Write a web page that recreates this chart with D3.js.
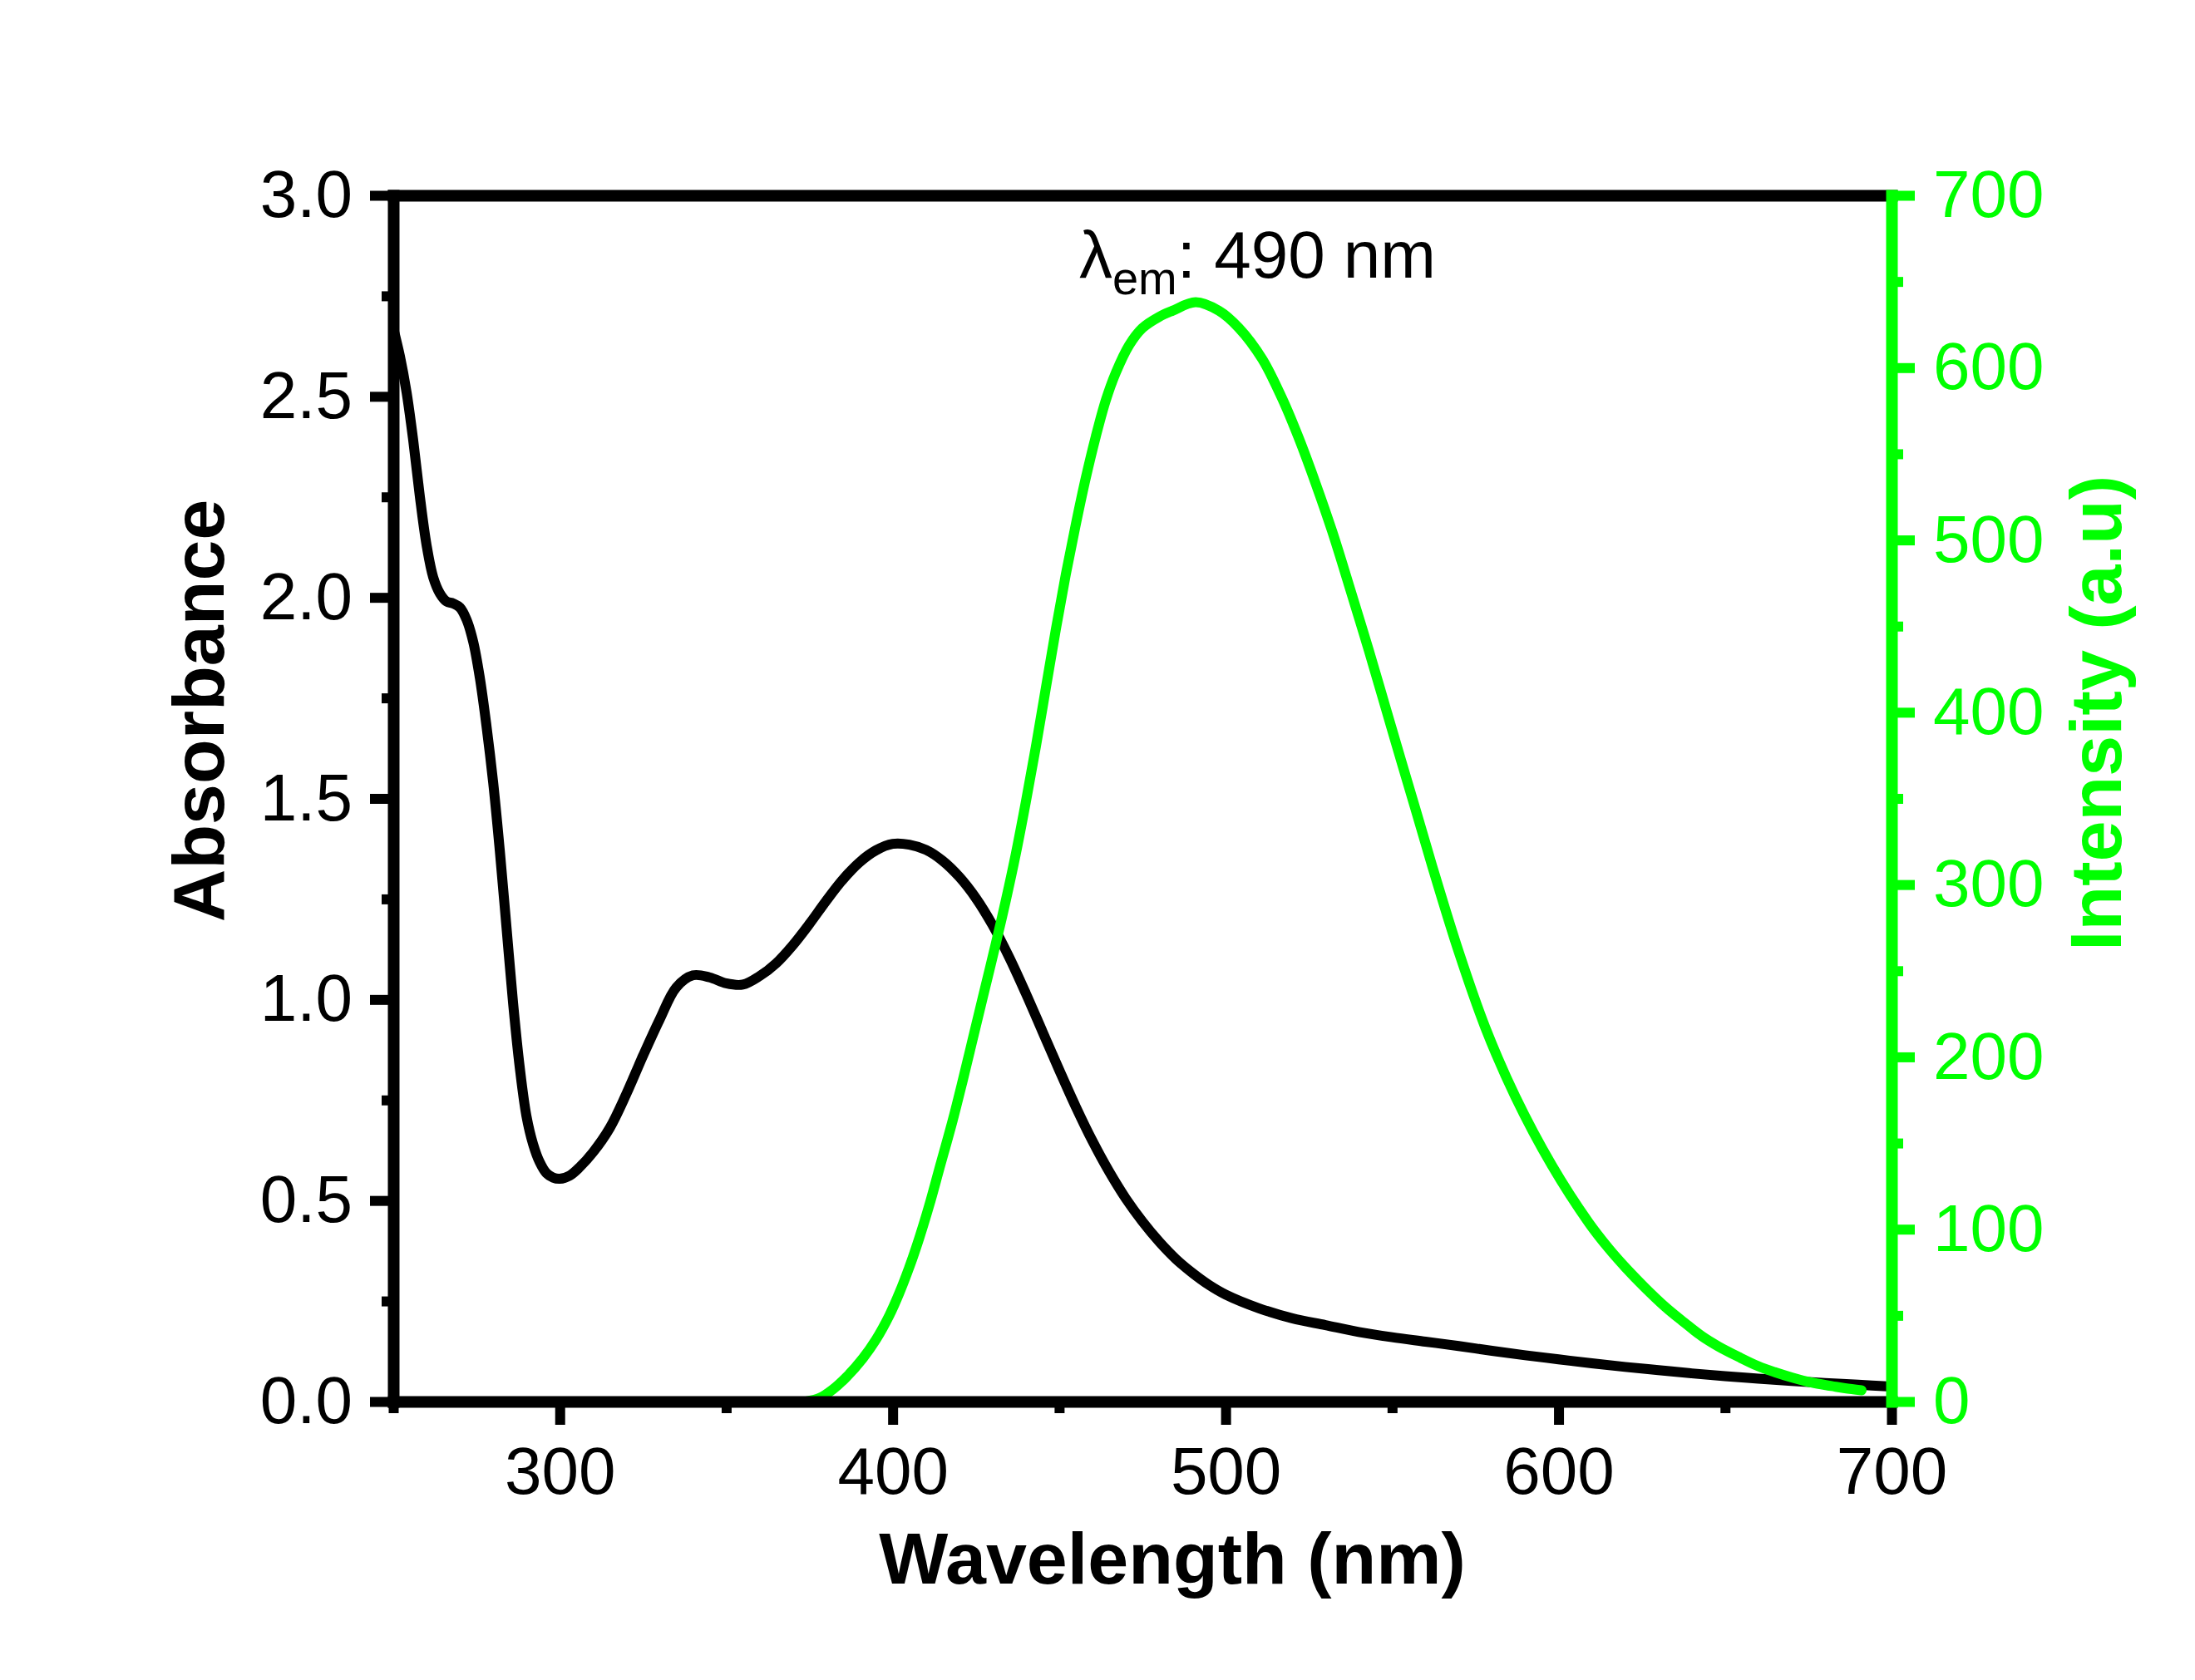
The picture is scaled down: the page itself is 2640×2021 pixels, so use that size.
<!DOCTYPE html>
<html>
<head>
<meta charset="utf-8">
<script src="https://cdnjs.cloudflare.com/ajax/libs/d3/7.8.5/d3.min.js"></script>
<style>
  html, body { margin: 0; padding: 0; background: #fff; }
  svg { display: block; }
  .axis .domain { stroke-width: 14; stroke-linecap: square; }
  .axis .tick line { stroke-width: 12; }
</style>
</head>
<body>
<script>

// Absorbance spectrum (black, left axis)
const absWavelength = [250, 252, 254, 256, 258, 260, 262, 264, 266, 268, 270, 272, 274, 276, 278, 280, 282, 284, 286, 288,
  290, 292, 294, 296, 298, 300, 303, 306, 310, 315, 320, 325, 330, 335, 340, 345, 350, 355, 360, 365,
  370, 375, 380, 385, 390, 395, 400, 405, 410, 415, 420, 425, 430, 435, 440, 445, 450, 455, 460, 465,
  470, 475, 480, 485, 490, 495, 500, 510, 520, 530, 540, 550, 560, 570, 580, 590, 600, 610, 620, 630,
  640, 650, 660, 670, 680, 690, 700];
const absValues = [2.67, 2.60, 2.51, 2.39, 2.25, 2.13, 2.05, 2.01, 1.99, 1.985, 1.975, 1.945, 1.89, 1.80, 1.68, 1.54, 1.37, 1.18, 0.99, 0.83,
  0.71, 0.64, 0.595, 0.568, 0.557, 0.554, 0.562, 0.583, 0.62, 0.68, 0.765, 0.86, 0.95, 1.03, 1.06, 1.055, 1.04, 1.037, 1.058, 1.09,
  1.135, 1.188, 1.245, 1.298, 1.341, 1.371, 1.387, 1.385, 1.372, 1.345, 1.305, 1.252, 1.185, 1.105, 1.015, 0.92, 0.825, 0.733, 0.648, 0.572,
  0.505, 0.448, 0.398, 0.355, 0.32, 0.29, 0.266, 0.232, 0.207, 0.19, 0.173, 0.16, 0.149, 0.138, 0.126, 0.115, 0.105, 0.095, 0.086, 0.078,
  0.070, 0.063, 0.057, 0.051, 0.046, 0.042, 0.037];

// Emission spectrum (green, right axis)
const emWavelength = [374, 378, 382, 386, 391, 395, 399, 402, 405, 408, 411, 414, 418, 421, 424, 427, 431, 434, 437, 440,
  443, 446, 449, 452, 455, 458, 461, 464, 467, 471, 475, 480, 484, 491, 498, 504, 511, 517, 522, 527,
  532, 537, 543, 548, 553, 557, 562, 570, 578, 587, 598, 609, 615, 620, 626, 632, 637, 643, 648, 654,
  660, 665, 670, 676, 682, 686, 691];
const emValues = [0, 2, 7, 14, 25, 36, 50, 63, 78, 95, 114, 135, 163, 186, 210, 234, 266, 291, 318, 348,
  380, 414, 448, 480, 509, 536, 560, 581, 597, 613, 623, 629.5, 633, 638, 633, 623, 605, 582, 559, 533,
  505, 474, 436, 403, 370, 344, 311, 261, 217, 177, 137, 104, 89, 78, 66, 55, 47, 38, 32, 26,
  20.5, 17, 14, 11, 9, 7.7, 6.5];

// Ticks
const xMajorTicks = [300, 400, 500, 600, 700];
const xMinorTicks = [250, 350, 450, 550, 650];
const absMajorTicks = [0, 0.5, 1, 1.5, 2, 2.5, 3];
const absMinorTicks = [0.25, 0.75, 1.25, 1.75, 2.25, 2.75];
const emMajorTicks = [0, 100, 200, 300, 400, 500, 600, 700];
const emMinorTicks = [50, 150, 250, 350, 450, 550, 650];

// Annotation
const peakLabel = { wavelength: 456, intensity: 652, value: '490 nm' };

// Some constants
const width = 2640;
const height = 2021;
const frame = { left: 473, right: 2275, top: 235, bottom: 1686 };
const green = '#00ff00';
const font = '"Liberation Sans", Arial, sans-serif';

const svg = d3.select('body')
  .append('svg')
  .attr('width', width)
  .attr('height', height)
  .attr('font-family', font)
  .style('background', '#fff');

// Scales
const x = d3.scaleLinear().domain([250, 700]).range([frame.left, frame.right]);
const yAbs = d3.scaleLinear().domain([0, 3]).range([frame.bottom, frame.top]);
const yEm = d3.scaleLinear().domain([0, 700]).range([frame.bottom, frame.top]);

// Curves
const absData = absWavelength.map((w, i) => ({ x: w, y: absValues[i] }));
const emData = emWavelength.map((w, i) => ({ x: w, y: emValues[i] }));
const smooth = d3.curveCatmullRom.alpha(0.5);

svg.append('path')
  .datum(absData)
  .attr('fill', 'none')
  .attr('stroke', '#000')
  .attr('stroke-width', 12)
  .attr('stroke-linejoin', 'round')
  .attr('d', d3.line().x(d => x(d.x)).y(d => yAbs(d.y)).curve(smooth));

svg.append('path')
  .datum(emData)
  .attr('fill', 'none')
  .attr('stroke', green)
  .attr('stroke-width', 12)
  .attr('stroke-linejoin', 'round')
  .attr('stroke-linecap', 'round')
  .attr('d', d3.line().x(d => x(d.x)).y(d => yEm(d.y)).curve(smooth));

// Draws a major + minor axis pair
function drawAxis(axisFn, scale, major, minor, fmt, transform, color, padding) {
  const gMinor = svg.append('g')
    .attr('class', 'axis')
    .attr('transform', transform)
    .attr('color', color)
    .call(axisFn(scale).tickValues(minor).tickSize(14).tickFormat(''));
  gMinor.select('.domain').remove();

  const g = svg.append('g')
    .attr('class', 'axis')
    .attr('transform', transform)
    .attr('color', color)
    .call(axisFn(scale).tickValues(major).tickSize(28).tickSizeOuter(0).tickPadding(padding).tickFormat(fmt));
  g.attr('font-size', 80).attr('font-family', font);
  return g;
}

drawAxis(d3.axisBottom, x, xMajorTicks, xMinorTicks, d3.format('d'), `translate(0,${frame.bottom})`, '#000', 26);
drawAxis(d3.axisLeft, yAbs, absMajorTicks, absMinorTicks, d3.format('.1f'), `translate(${frame.left},0)`, '#000', 21);

// Top frame line
svg.append('g')
  .attr('class', 'axis')
  .attr('transform', `translate(0,${frame.top})`)
  .attr('color', '#000')
  .call(d3.axisTop(x).tickValues([]).tickSizeOuter(0));

drawAxis(d3.axisRight, yEm, emMajorTicks, emMinorTicks, d3.format('d'), `translate(${frame.right},0)`, green, 22);

// Axis titles
svg.append('text')
  .attr('x', 1410)
  .attr('y', 1905)
  .attr('text-anchor', 'middle')
  .attr('font-size', 88)
  .attr('font-weight', 'bold')
  .text('Wavelength (nm)');

svg.append('text')
  .attr('transform', 'translate(269,855) rotate(-90)')
  .attr('text-anchor', 'middle')
  .attr('font-size', 88)
  .attr('font-weight', 'bold')
  .text('Absorbance');

svg.append('text')
  .attr('transform', 'translate(2551,858) rotate(-90)')
  .attr('text-anchor', 'middle')
  .attr('font-size', 88)
  .attr('font-weight', 'bold')
  .attr('fill', green)
  .text('Intensity (a.u)');

// Peak annotation
const label = svg.append('text')
  .attr('x', x(peakLabel.wavelength))
  .attr('y', yEm(peakLabel.intensity))
  .attr('font-size', 80);
label.append('tspan').text('λ');
label.append('tspan').attr('font-size', 56).attr('dy', 20).text('em');
label.append('tspan').attr('dy', -20).text(': ' + peakLabel.value);

</script>
</body>
</html>
